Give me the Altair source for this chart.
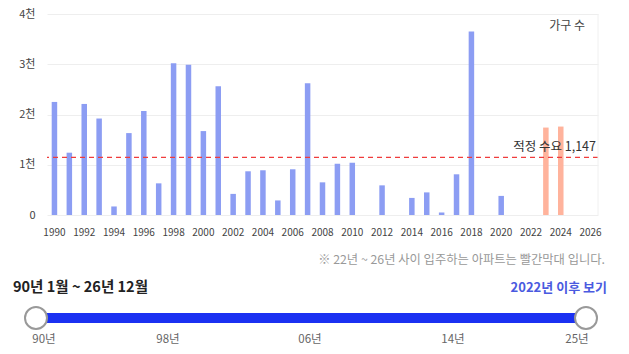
import altair as alt
import pandas as pd

# ---- data ----
years = list(range(1990, 2027))
households = [2250, 1240, 2210, 1920, 170, 1630, 2070, 630, 3020, 2990,
              1670, 2560, 420, 870, 890, 290, 910, 2620, 650, 1020,
              1040, None, 590, None, 340, 450, 50, 810, 3650, None,
              380, None, None, 1740, 1760, None, None]
tick_years = list(range(1990, 2027, 2))
y_ticks = [0, 1000, 2000, 3000, 4000]
demand = 1147
future_from = 2022

slider_labels = ["90년", "98년", "06년", "14년", "25년"]
slider_label_x = [-3, 121, 263, 406, 530]
slider_knob_x = [-11, 539]

FONT = "Noto Sans CJK KR"
df = pd.DataFrame({"year": years, "value": households})

W, H = 551, 201

bars = alt.Chart(df).mark_bar(size=5.5).encode(
    x=alt.X("year:O",
            scale=alt.Scale(domain=years, paddingInner=0, paddingOuter=0),
            axis=alt.Axis(values=tick_years, labelAngle=0, ticks=False, domain=False,
                          grid=False, labelFontSize=10, labelColor="#444",
                          labelPadding=12, title=None)),
    y=alt.Y("value:Q",
            scale=alt.Scale(domain=[0, 4000], nice=False),
            axis=alt.Axis(values=y_ticks, ticks=False, domain=False,
                          gridColor="#eeeeee", labelPadding=12, labelFontSize=11,
                          labelColor="#444", title=None,
                          labelExpr="datum.value == 0 ? '0' : (datum.value/1000) + '천'")),
    color=alt.condition(alt.datum.year >= future_from, alt.value("#FFB39C"), alt.value("#8C9DF3")),
)

dem_df = pd.DataFrame({"v": [demand], "t": [f"적정 수요 {demand:,}"]})
rule = alt.Chart(dem_df).mark_rule(strokeDash=[5, 4], color="#f03c3c", strokeWidth=1.2).encode(
    y="v:Q")
rule_text = alt.Chart(dem_df).mark_text(align="right", baseline="middle", dy=-10,
                                        fontSize=12.5, color="#333").encode(
    y="v:Q", x=alt.value(549), text="t:N")

edge = alt.Chart(pd.DataFrame({"a": [0]})).mark_rule(color="#f0f0f0").encode(
    x=alt.value(W), y=alt.value(0), y2=alt.value(H))


def label(text, x, y, align="left", size=11, color="#333", weight="normal"):
    return alt.Chart(pd.DataFrame({"t": [text]})).mark_text(
        align=align, baseline="middle", fontSize=size, color=color, fontWeight=weight
    ).encode(x=alt.value(x), y=alt.value(y), text="t:N")


legend = label("가구 수", 538, 12, align="right", size=12, color="#444")
note = label("※ 22년 ~ 26년 사이 입주하는 아파트는 빨간막대 입니다.", 558, 246,
             align="right", size=12.3, color="#999")
range_txt = label("90년 1월 ~ 26년 12월", -34, 274, size=14.5, color="#222", weight="bold")
link_txt = label("2022년 이후 보기", 560, 274, align="right", size=13, color="#4a5ae0",
                 weight="bold")

track = alt.Chart(pd.DataFrame({"a": [0]})).mark_rule(color="#1b31f2", strokeWidth=10).encode(
    x=alt.value(slider_knob_x[0]), x2=alt.value(slider_knob_x[1]), y=alt.value(304))

knobs = [
    alt.Chart(pd.DataFrame({"a": [0]})).mark_point(
        shape="circle", size=484, filled=True, fill="white", stroke="#999",
        strokeWidth=2, opacity=1).encode(x=alt.value(kx), y=alt.value(304))
    for kx in slider_knob_x
]

slabels = [label(t, x, 326, align="center", size=11.5, color="#666")
           for t, x in zip(slider_labels, slider_label_x)]

chart = alt.layer(bars, rule, rule_text, edge, legend, note, range_txt, link_txt,
                  track, *knobs, *slabels).properties(
    width=W, height=H,
    autosize=alt.AutoSizeParams(type="none"),
    padding={"left": 47, "top": 14, "right": 31, "bottom": 139},
).configure(font=FONT).configure_view(stroke=None)

chart.save("out.html", embed_options={"renderer": "svg", "actions": False})
